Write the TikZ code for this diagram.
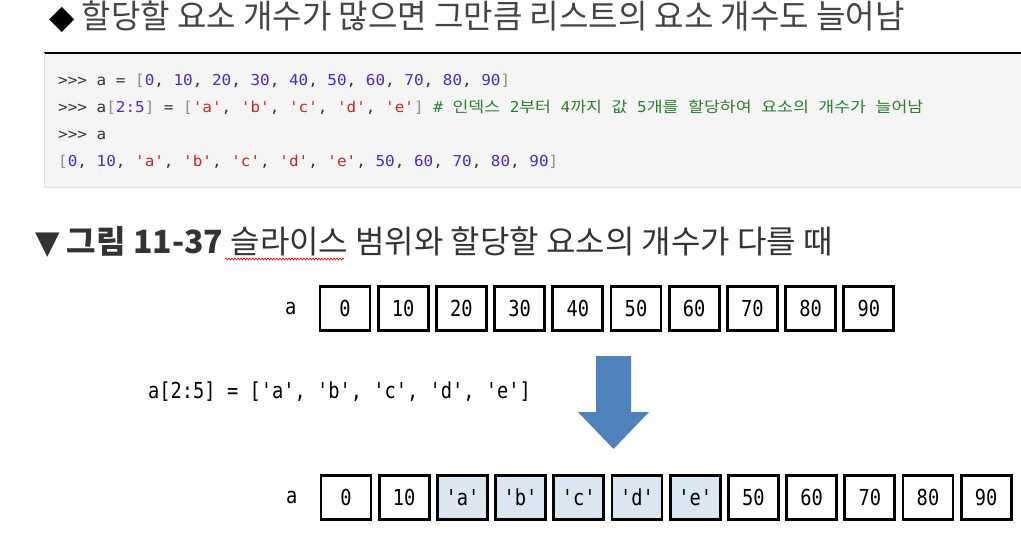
\documentclass[tikz,border=0pt]{standalone}
\usepackage{fontspec}
\usepackage{tikz}
\usetikzlibrary{positioning,decorations.pathmorphing}
\setmainfont{Noto Sans CJK KR}
\newfontfamily\headfont[FakeStretch=0.97]{Noto Sans CJK KR}
\newfontfamily\titlefont[FakeStretch=1.0]{Noto Sans CJK KR}
\newfontfamily\symfont{DejaVu Sans}
\newfontfamily\codefont[FakeStretch=1.065]{DejaVu Sans Mono}
\newfontfamily\hanfont[FakeStretch=1.15]{Noto Sans CJK KR}
\newfontfamily\cellfont[FakeStretch=0.85]{DejaVu Sans Mono}

\definecolor{headgray}{RGB}{68,68,68}
\definecolor{codebg}{RGB}{245,245,245}
\definecolor{codeline}{RGB}{214,214,214}
\definecolor{promptgray}{RGB}{51,51,51}
\definecolor{bragray}{RGB}{150,140,120}
\definecolor{numblue}{RGB}{64,48,190}
\definecolor{strred}{RGB}{196,40,40}
\definecolor{cmtgreen}{RGB}{40,128,40}
\definecolor{newfill}{RGB}{220,230,242}
\definecolor{arrowblue}{RGB}{79,129,189}

\newcommand{\kr}[1]{{\hanfont\fontsize{15}{15}\selectfont #1}}
\newcommand{\pynum}[1]{\textcolor{numblue}{#1}}
\newcommand{\pystr}[1]{\textcolor{strred}{#1}}
\newcommand{\pybra}[1]{\textcolor{bragray}{#1}}

\tikzset{
    headline/.style={anchor=base west, inner sep=0pt, text=headgray},
    codeline/.style={anchor=base west, inner sep=0pt, text=promptgray, font=\codefont\fontsize{15}{15}\selectfont},
    cell/.style={rectangle, draw=black, line width=2.8pt, fill=white, minimum width=50pt, minimum height=44pt, inner sep=0pt, font=\cellfont\fontsize{22}{22}\selectfont},
    newcell/.style={cell, fill=newfill},
    lbl/.style={inner sep=0pt, font=\cellfont\fontsize{22}{22}\selectfont},
    node distance=5.4pt
}

\begin{document}
\begin{tikzpicture}[x=1pt,y=-1pt]
    \useasboundingbox (0,0) rectangle (1021,551);

    % heading
    \node[headline, font=\headfont\fontsize{33}{33}\selectfont] (head) at (49,29) {{\symfont\color{black}◆} 할당할 요소 개수가 많으면 그만큼 리스트의 요소 개수도 늘어남};

    % code block
    \fill[codebg] (44,53) rectangle (1030,187);
    \draw[codeline, line width=2pt] (44,53) -- (1030,53);
    \draw[codeline!70, line width=1pt] (44,187) -- (1030,187);
    \draw[codeline!70, line width=1pt] (44,53) -- (44,187);
    \node[codeline] (line1) at (58,85) {>>> a = \pybra{[}\pynum{0}, \pynum{10}, \pynum{20}, \pynum{30}, \pynum{40}, \pynum{50}, \pynum{60}, \pynum{70}, \pynum{80}, \pynum{90}\pybra{]}};
    \node[codeline] (line2) at (58,113) {>>> a\pybra{[}\pynum{2:5}\pybra{]} = \pybra{[}\pystr{'a'}, \pystr{'b'}, \pystr{'c'}, \pystr{'d'}, \pystr{'e'}\pybra{]} \textcolor{cmtgreen}{\# \kr{인덱스} 2\kr{부터} 4\kr{까지} \kr{값} 5\kr{개를} \kr{할당하여} \kr{요소의} \kr{개수가} \kr{늘어남}}};
    \node[codeline] (line3) at (58,139.5) {>>> a};
    \node[codeline] (line4) at (58,166) {\pybra{[}\pynum{0}, \pynum{10}, \pystr{'a'}, \pystr{'b'}, \pystr{'c'}, \pystr{'d'}, \pystr{'e'}, \pynum{50}, \pynum{60}, \pynum{70}, \pynum{80}, \pynum{90}\pybra{]}};

    % figure title
    \node[headline, text=black!80, font=\titlefont\fontsize{32}{32}\selectfont] (title) at (35,253) {{\symfont ▼} \textbf{그림 11-37} 슬라이스 범위와 할당할 요소의 개수가 다를 때};
    \draw[red, line width=0.6pt, decorate, decoration={snake, amplitude=1pt, segment length=3pt}] (225,259) -- (344,259);

    % list before
    \node[cell] (t0) at (345,308.5) {0};
    \node[cell, right=of t0] (t1) {10};
    \node[cell, right=of t1] (t2) {20};
    \node[cell, right=of t2] (t3) {30};
    \node[cell, right=of t3] (t4) {40};
    \node[cell, right=of t4] (t5) {50};
    \node[cell, right=of t5] (t6) {60};
    \node[cell, right=of t6] (t7) {70};
    \node[cell, right=of t7] (t8) {80};
    \node[cell, right=of t8] (t9) {90};
    \node[lbl, left=22pt of t0] (ta) {a};

    % assignment
    \node[lbl, anchor=west] (assign) at (148,392) {a[2:5] = ['a', 'b', 'c', 'd', 'e']};
    \fill[arrowblue] (596,356) -- (631,356) -- (631,412) -- (649,412) -- (613.5,449) -- (578,412) -- (596,412) -- cycle;

    % list after
    \node[cell] (b0) at (346,497.5) {0};
    \node[cell, right=of b0] (b1) {10};
    \node[newcell, right=of b1] (b2) {'a'};
    \node[newcell, right=of b2] (b3) {'b'};
    \node[newcell, right=of b3] (b4) {'c'};
    \node[newcell, right=of b4] (b5) {'d'};
    \node[newcell, right=of b5] (b6) {'e'};
    \node[cell, right=of b6] (b7) {50};
    \node[cell, right=of b7] (b8) {60};
    \node[cell, right=of b8] (b9) {70};
    \node[cell, right=of b9] (b10) {80};
    \node[cell, right=of b10] (b11) {90};
    \node[lbl, left=22pt of b0] (ba) {a};
\end{tikzpicture}
\end{document}
